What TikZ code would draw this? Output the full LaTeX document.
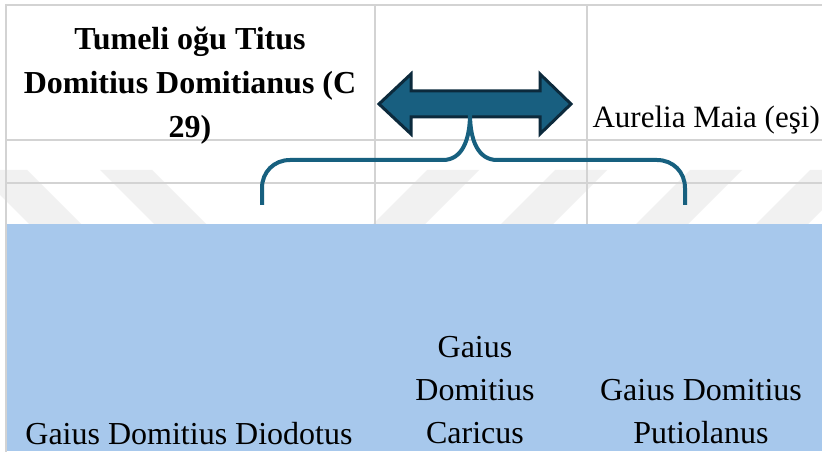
\documentclass[tikz,border=0pt]{standalone}
\usepackage{fontspec}
\setmainfont{Liberation Serif}
\definecolor{gridc}{HTML}{D3D3D3}
\definecolor{blueb}{HTML}{A7C8EC}
\definecolor{arrfill}{HTML}{185F80}
\definecolor{arrline}{HTML}{0C2A3C}
\definecolor{bracec}{HTML}{17607F}
\definecolor{wm}{HTML}{F1F1F1}
\begin{document}
\begin{tikzpicture}[x=1pt,y=-1pt,
  gridline/.style={draw=gridc, line width=2pt},
  lbl/.style={inner sep=0pt, font=\fontsize{32}{43}\selectfont, align=center, anchor=base},
  boldlbl/.style={lbl, font=\fontsize{32}{44}\selectfont\bfseries},
  bracestyle/.style={draw=bracec, line width=4pt},
  arrowstyle/.style={draw=arrline, fill=arrfill, line width=3pt, line join=miter}]
\useasboundingbox (0,0) rectangle (822,454);
\fill[white] (0,0) rectangle (822,454);
% watermark stripes
\foreach \a in {-25,100} \fill[wm] (\a,170) -- (\a+52,170) -- (\a+106,224) -- (\a+54,224) -- cycle;
\foreach \a in {427,555,690,810} \fill[wm] (\a,170) -- (\a+52,170) -- (\a-2,224) -- (\a-54,224) -- cycle;
% grid
\draw[gridline] (5,5) -- (822,5);
\draw[gridline] (6,4) -- (6,452);
\draw[gridline] (6,140) -- (822,140);
\draw[gridline] (6,183) -- (822,183);
\draw[gridline] (375,5) -- (375,224);
\draw[gridline] (587,5) -- (587,224);
% blue band
\fill[blueb] (7,224) rectangle (822,451);
% texts (anchor = baseline of last line)
\node[boldlbl] (father) at (190,138) {Tumeli oğu Titus\\Domitius Domitianus (C\\29)};
\node[lbl, anchor=base east, font=\fontsize{31}{40}\selectfont] (mother) at (820,128) {Aurelia Maia (eşi)};
\node[lbl] (c1) at (189,444) {Gaius Domitius Diodotus};
\node[lbl] (c2) at (475,443) {Gaius\\Domitius\\Caricus};
\node[lbl] (c3) at (701,443) {Gaius Domitius\\Putiolanus};
% double arrow
\draw[arrowstyle] (379,104) -- (411,74) -- (411,91) -- (540,91) -- (540,74) -- (571,104)
  -- (540,134) -- (540,117) -- (411,117) -- (411,134) -- cycle;
% brace
\coordinate (bt) at (470,114);
\coordinate (bl) at (262,205);
\coordinate (br) at (685,205);
\draw[bracestyle] (bl) -- (262,188) .. controls (262,172) and (274,160) .. (290,160)
  -- (443,160) .. controls (462,160) and (470,140) .. (bt);
\draw[bracestyle] (bt) .. controls (470,140) and (478,160) .. (497,160)
  -- (657,160) .. controls (673,160) and (685,172) .. (685,188) -- (br);
\end{tikzpicture}
\end{document}
